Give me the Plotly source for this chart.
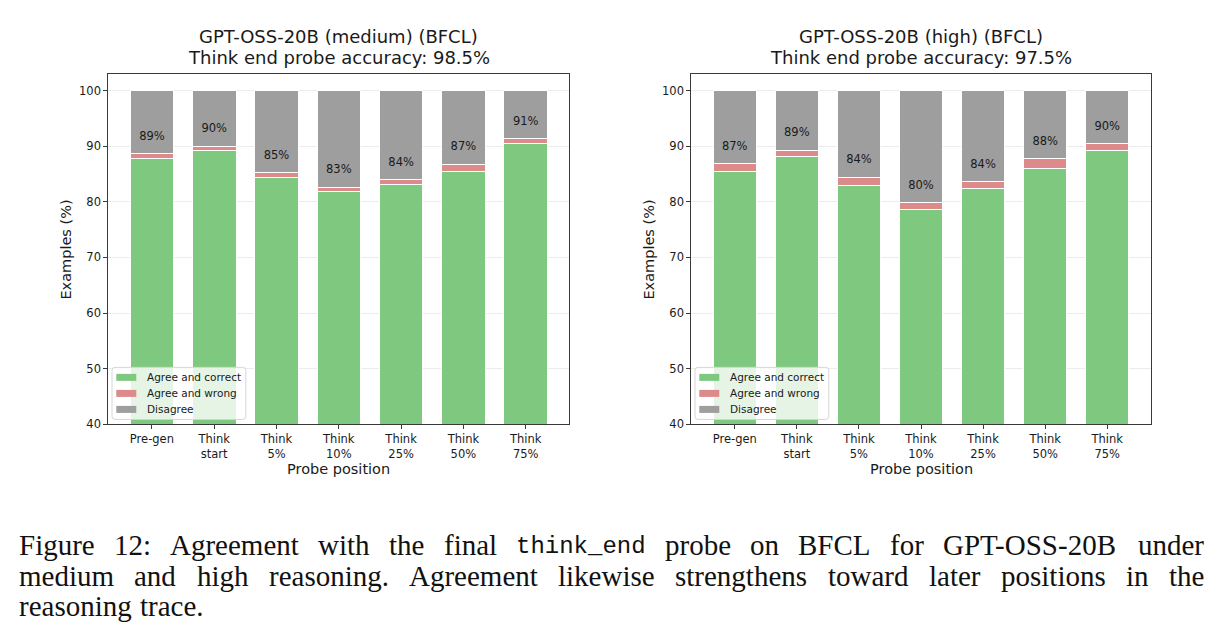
import plotly.graph_objects as go

W, H = 1219, 636

# ---------------- data ----------------
categories = ["Pre-gen", "Think<br>start", "Think<br>5%", "Think<br>10%",
              "Think<br>25%", "Think<br>50%", "Think<br>75%"]

med_correct = [87.8, 89.2, 84.4, 81.8, 83.1, 85.5, 90.4]
med_wrong = [0.8, 0.8, 0.8, 0.8, 0.9, 1.25, 0.9]
med_labels = ["89%", "90%", "85%", "83%", "84%", "87%", "91%"]

high_correct = [85.4, 88.1, 83.0, 78.7, 82.3, 85.9, 89.2]
high_wrong = [1.4, 1.2, 1.4, 1.1, 1.3, 1.8, 1.2]
high_labels = ["87%", "89%", "84%", "80%", "84%", "88%", "90%"]

titles = [("GPT-OSS-20B (medium) (BFCL)", "Think end probe accuracy: 98.5%"),
          ("GPT-OSS-20B (high) (BFCL)", "Think end probe accuracy: 97.5%")]

series_names = ["Agree and correct", "Agree and wrong", "Disagree"]
y_ticks = [40, 50, 60, 70, 80, 90, 100]

caption_lines = [
    "Figure 12:  Agreement with the final think_end probe on BFCL for GPT-OSS-20B under",
    "medium and high reasoning. Agreement likewise strengthens toward later positions in the",
    "reasoning trace.",
]

# ---------------- style ----------------
GREEN = "#7fc87f"
RED = "#dc8a8a"
GRAY = "#9e9e9e"
COLORS = [GREEN, RED, GRAY]
FONT = "DejaVu Sans"
TXT = "#1a1a1a"
SPINE = "#3a3a3a"
S = 0.988  # vertical calibration


def px(x):
    return x / W


def py(y):
    return 1 - (y / S) / H


fig = go.Figure()

panels = [
    (med_correct, med_wrong, med_labels, "x", "y", (108.3, 569.3)),
    (high_correct, high_wrong, high_labels, "x2", "y2", (691.3, 1150.7)),
]

for correct, wrong, labels, xa, ya, _ in panels:
    agree = [c + w for c, w in zip(correct, wrong)]
    disagree = [100 - a for a in agree]
    for name, vals, col in zip(series_names, [correct, wrong, disagree], COLORS):
        fig.add_trace(go.Bar(
            x=categories, y=vals, name=name, xaxis=xa, yaxis=ya,
            marker=dict(color=col, line=dict(color="white", width=1)),
            width=0.7, showlegend=False, hoverinfo="skip",
        ))
    fig.add_trace(go.Scatter(
        x=categories, y=[a + 3 for a in agree], text=labels, mode="text",
        xaxis=xa, yaxis=ya, showlegend=False, hoverinfo="skip",
        textfont=dict(family=FONT, size=11.5, color=TXT),
    ))

Y_TOP, Y_BOT = 73.7, 424
ydom = [py(Y_BOT), py(Y_TOP)]
axis_common = dict(showline=True, linecolor=SPINE, linewidth=1, mirror=True,
                   ticks="outside", ticklen=4, tickwidth=1, tickcolor=SPINE,
                   tickfont=dict(family=FONT, size=11.5, color=TXT), zeroline=False)

layout = dict(
    width=W, height=H, margin=dict(l=0, r=0, t=0, b=0),
    paper_bgcolor="white", plot_bgcolor="white", barmode="stack",
    bargap=0.3, font=dict(family=FONT, color=TXT), showlegend=False,
)

for i, (_, _, _, xa, ya, (x0, x1)) in enumerate(panels):
    sfx = "" if i == 0 else "2"
    layout["xaxis" + sfx] = dict(
        domain=[px(x0), px(x1)], anchor="y" + sfx, type="category",
        categoryorder="array", categoryarray=categories,
        range=[-0.7, 6.7], showgrid=False, **axis_common)
    layout["yaxis" + sfx] = dict(
        domain=ydom, anchor="x" + sfx, range=[40, 103],
        tickvals=y_ticks, showgrid=True, gridcolor="#ececec", gridwidth=1,
        **axis_common)

fig.update_layout(**layout)


def rounded_rect(x0, x1, y0, y1, r=3):
    """SVG path (paper coords) for a rounded rectangle given pixel bounds."""
    X = lambda v: px(v)
    Y = lambda v: py(v)
    return (f"M {X(x0 + r)},{Y(y0)} L {X(x1 - r)},{Y(y0)} Q {X(x1)},{Y(y0)} {X(x1)},{Y(y0 + r)} "
            f"L {X(x1)},{Y(y1 - r)} Q {X(x1)},{Y(y1)} {X(x1 - r)},{Y(y1)} "
            f"L {X(x0 + r)},{Y(y1)} Q {X(x0)},{Y(y1)} {X(x0)},{Y(y1 - r)} "
            f"L {X(x0)},{Y(y0 + r)} Q {X(x0)},{Y(y0)} {X(x0 + r)},{Y(y0)} Z")


anns = []
shapes = []
for i, (_, _, _, _, _, (x0, x1)) in enumerate(panels):
    cx = (x0 + x1) / 2
    anns.append(dict(x=px(cx), y=py(36), text=titles[i][0],
                     font=dict(family=FONT, size=18, color=TXT)))
    anns.append(dict(x=px(cx), y=py(57), text=titles[i][1],
                     font=dict(family=FONT, size=18, color=TXT)))
    anns.append(dict(x=px(cx), y=py(468.5), text="Probe position",
                     font=dict(family=FONT, size=14.5, color=TXT)))
    anns.append(dict(x=px(x0 - 42), y=py(249), text="Examples (%)", textangle=-90,
                     font=dict(family=FONT, size=14.5, color=TXT)))
    # legend (drawn manually, lower left inside axes)
    shapes.append(dict(type="path", xref="paper", yref="paper",
                       path=rounded_rect(x0 + 3.7, x0 + 137.5, 367, 419),
                       fillcolor="rgba(255,255,255,0.8)",
                       line=dict(color="#d6d6d6", width=1), layer="above"))
    for k, (name, col) in enumerate(zip(series_names, COLORS)):
        yc = 377 + 16 * k
        shapes.append(dict(type="rect", xref="paper", yref="paper",
                           x0=px(x0 + 8), x1=px(x0 + 28), y0=py(yc + 3.5), y1=py(yc - 3.5),
                           fillcolor=col, line=dict(width=0), layer="above"))
        anns.append(dict(x=px(x0 + 37), y=py(yc), text=name, xanchor="left",
                         font=dict(family=FONT, size=10.5, color=TXT)))

for a in anns:
    a.setdefault("xanchor", "center")
    a.update(xref="paper", yref="paper", showarrow=False, yanchor="middle")

# ---------------- caption (justified, word by word) ----------------
TIMES = {' ': 250, '.': 250, ',': 250, ':': 278, '-': 333, '_': 500, '(': 333, ')': 333,
         'A': 722, 'B': 667, 'C': 667, 'D': 722, 'E': 611, 'F': 556, 'G': 722, 'H': 722,
         'I': 333, 'J': 389, 'K': 722, 'L': 611, 'M': 889, 'N': 722, 'O': 722, 'P': 556,
         'Q': 722, 'R': 667, 'S': 556, 'T': 611, 'U': 722, 'V': 722, 'W': 944, 'X': 722,
         'Y': 722, 'Z': 611, 'a': 444, 'b': 500, 'c': 444, 'd': 500, 'e': 444, 'f': 333,
         'g': 500, 'h': 500, 'i': 278, 'j': 278, 'k': 500, 'l': 278, 'm': 778, 'n': 500,
         'o': 500, 'p': 500, 'q': 500, 'r': 333, 's': 389, 't': 278, 'u': 500, 'v': 500,
         'w': 722, 'x': 500, 'y': 500, 'z': 444}
CAP_SIZE = 29
MONO_SIZE = 24
MONO_WORDS = {"think_end"}


def word_width(w):
    if w in MONO_WORDS:
        return 0.6 * MONO_SIZE * len(w)
    return sum(TIMES.get(c, 500) for c in w) / 1000 * CAP_SIZE


cap_left, cap_right = 18, 1203
cap_y = [544.5, 575.5, 605.5]
for li, line in enumerate(caption_lines):
    words = line.split()
    widths = [word_width(w) for w in words]
    justify = li < len(caption_lines) - 1
    if justify:
        gap = (cap_right - cap_left - sum(widths)) / (len(words) - 1)
    else:
        gap = 0.25 * CAP_SIZE * 1.2
    xpos = cap_left
    for w, ww in zip(words, widths):
        mono = w in MONO_WORDS
        anns.append(dict(x=px(xpos), y=py(cap_y[li] + (1 if mono else 0)), text=w,
                         xref="paper", yref="paper",
                         showarrow=False, xanchor="left", yanchor="middle", borderpad=0,
                         font=dict(family="Liberation Mono" if mono else "Liberation Serif",
                                   size=MONO_SIZE if mono else CAP_SIZE, color="#111")))
        xpos += ww + gap

fig.update_layout(annotations=anns, shapes=shapes)
fig.write_html("out.html")
